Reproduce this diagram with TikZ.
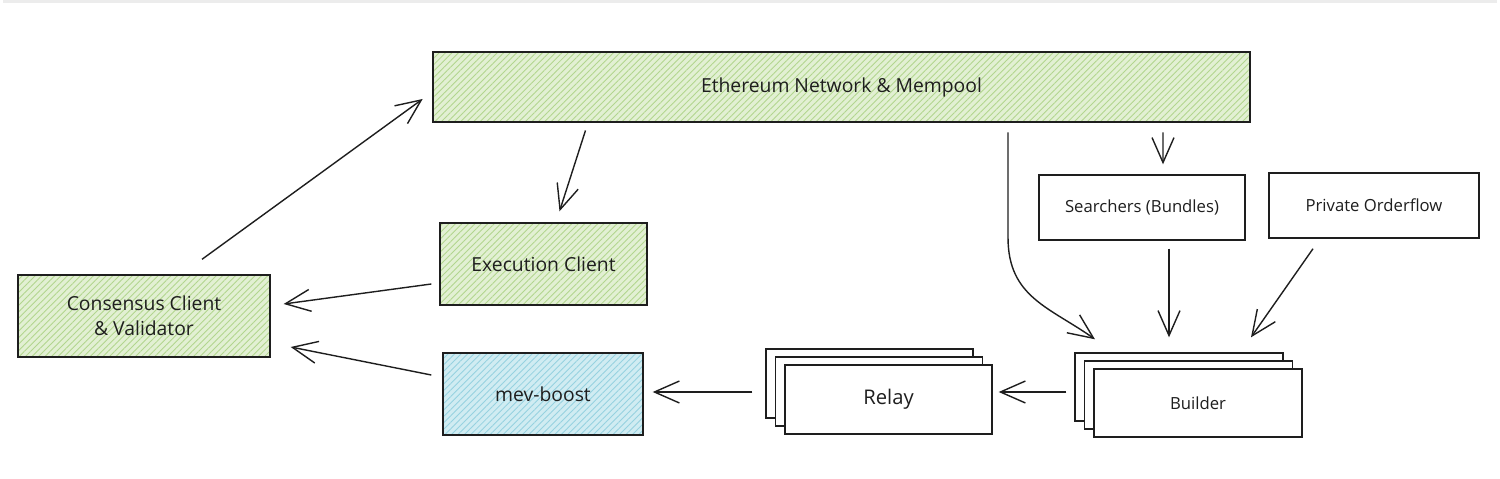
\documentclass[tikz,border=0pt]{standalone}
\usepackage{fontspec}
\setmainfont{Open Sans}
\usepackage{tikz}
\usetikzlibrary{arrows.meta, patterns.meta, shadows, calc}
\definecolor{inkdark}{RGB}{30,30,30}
\definecolor{topbar}{RGB}{236,236,236}
\definecolor{greenbg}{RGB}{226,240,211}
\definecolor{greenhatch}{RGB}{178,214,142}
\definecolor{bluebg}{RGB}{208,236,242}
\definecolor{bluehatch}{RGB}{150,210,224}
\tikzset{
  greenbox/.style={rectangle, draw=inkdark, line width=0.8pt,
    preaction={fill=greenbg},
    pattern={Lines[angle=45, distance=2.6pt, line width=0.5pt]},
    pattern color=greenhatch,
    align=center, text=inkdark, font=\fontsize{11}{14.5}\selectfont},
  bluebox/.style={greenbox, preaction={fill=bluebg}, pattern color=bluehatch},
  plainbox/.style={rectangle, draw=inkdark, fill=white, line width=0.8pt,
    align=center, text=inkdark, font=\fontsize{9.5}{12}\selectfont},
  stackbox/.style={plainbox,
    copy shadow={shadow xshift=-0.38cm, shadow yshift=0.32cm},
    copy shadow={shadow xshift=-0.19cm, shadow yshift=0.16cm}},
  arrow/.style={-{Straight Barb[length=5mm, width=4.4mm]}, line width=0.8pt, color=inkdark}
}

\begin{document}
% units are pixels of the layout, y grows downwards
\begin{tikzpicture}[x=0.02cm, y=-0.02cm]
  \useasboundingbox (0,0) rectangle (1500,479);
  \fill[topbar] (3,0.5) rectangle (1497,3);

  % --- Nodes ---
  \node[greenbox, minimum width=16.34cm, minimum height=1.4cm] (eth) at (841.5,87) {Ethereum Network \& Mempool};
  \node[greenbox, minimum width=5.04cm, minimum height=1.64cm] (cons) at (144,316) {Consensus Client\\\& Validator};
  \node[greenbox, minimum width=4.14cm, minimum height=1.64cm] (exec) at (543.5,264) {Execution Client};
  \node[bluebox, minimum width=4.0cm, minimum height=1.64cm] (mev) at (543,394) {mev-boost};

  \node[plainbox, minimum width=4.12cm, minimum height=1.3cm] (search) at (1142,207.5) {Searchers (Bundles)};
  \node[plainbox, minimum width=4.2cm, minimum height=1.3cm] (private) at (1374,205.5) {Private Orderflow};

  \node[stackbox, minimum width=4.14cm, minimum height=1.38cm, font=\fontsize{11.5}{14}\selectfont] (relay) at (888.5,399.5) {Relay};
  \node[stackbox, minimum width=4.16cm, minimum height=1.36cm] (builder) at (1198,403) {Builder};

  % --- Connectors ---
  \draw[arrow] ([shift={(58,-15)}]cons.north) -- ([shift={(-10,12)}]eth.west);
  \draw[arrow] ([shift={(-256,8)}]eth.south) -- ([shift={(16,-11)}]exec.north);
  \draw[arrow] ([shift={(-8,20)}]exec.west) -- ([shift={(13,-12)}]cons.east);
  \draw[arrow] ([shift={(-11,-19)}]mev.west) -- ([shift={(20,31)}]cons.east);
  \draw[arrow] ([shift={(-32,-7.5)}]relay.west) -- ([shift={(9,-2)}]mev.east);
  \draw[arrow] ([shift={(-27,-11)}]builder.west) -- ([shift={(6,-7.5)}]relay.east);

  \draw[arrow] ([shift={(321.5,10)}]eth.south) -- ([shift={(21,-10)}]search.north);
  \draw[arrow] ([shift={(166.5,10)}]eth.south) -- ++(0,105)
    .. controls +(0,60) and +(-45,-32) .. ([shift={(-103,-29)}]builder.north);
  \draw[arrow] ([shift={(27,8)}]search.south) -- ([shift={(-29,-31)}]builder.north);
  \draw[arrow] ([shift={(-61,10)}]private.south) -- ([shift={(53,-31)}]builder.north);
\end{tikzpicture}
\end{document}
